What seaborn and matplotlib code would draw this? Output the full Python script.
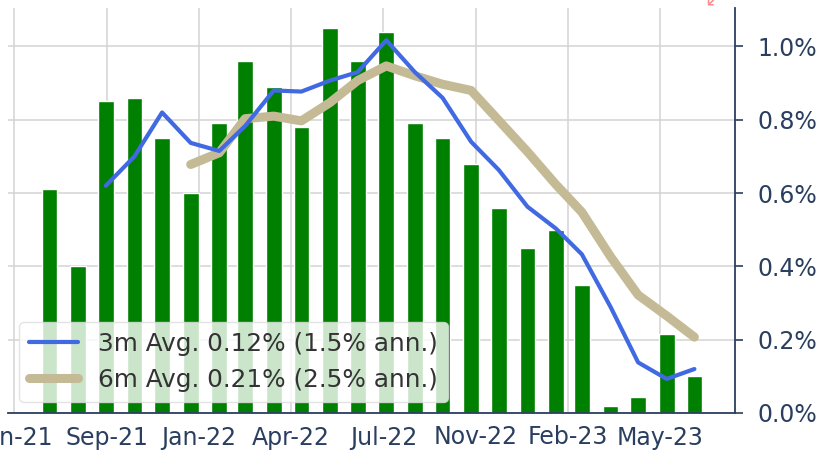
import numpy as np
import pandas as pd
import matplotlib
matplotlib.use("Agg")
import matplotlib.pyplot as plt
import matplotlib.dates as mdates
from matplotlib.ticker import FuncFormatter
import seaborn as sns

# monthly change (%), month-end dates
months = ["2021-07-31", "2021-08-31", "2021-09-30", "2021-10-31", "2021-11-30", "2021-12-31",
          "2022-01-31", "2022-02-28", "2022-03-31", "2022-04-30", "2022-05-31", "2022-06-30",
          "2022-07-31", "2022-08-31", "2022-09-30", "2022-10-31", "2022-11-30", "2022-12-31",
          "2023-01-31", "2023-02-28", "2023-03-31", "2023-04-30", "2023-05-31", "2023-06-30"]
monthly = [0.61, 0.40, 0.85, 0.86, 0.75, 0.60, 0.79, 0.96, 0.89, 0.78, 1.05, 0.96,
           1.04, 0.79, 0.75, 0.68, 0.56, 0.45, 0.50, 0.35, 0.02, 0.045, 0.215, 0.10]
avg_3m = [np.nan, np.nan, 0.62, 0.70, 0.82, 0.737, 0.715, 0.783, 0.88, 0.877, 0.907, 0.93,
          1.017, 0.93, 0.86, 0.74, 0.663, 0.563, 0.503, 0.433, 0.29, 0.138, 0.093, 0.12]
avg_6m = [np.nan, np.nan, np.nan, np.nan, np.nan, 0.678, 0.71, 0.803, 0.81, 0.797, 0.847, 0.907,
          0.947, 0.92, 0.897, 0.88, 0.798, 0.713, 0.623, 0.548, 0.427, 0.322, 0.265, 0.207]

label_3m = "3m Avg. 0.12% (1.5% ann.)"
label_6m = "6m Avg. 0.21% (2.5% ann.)"
tick_labels = ["Jun-21", "Sep-21", "Jan-22", "Apr-22", "Jul-22", "Nov-22", "Feb-23", "May-23"]

navy = "#2a3f5f"

sns.set_theme(style="whitegrid")
plt.rcParams["font.family"] = ["DejaVu Sans"]

x = mdates.date2num(pd.to_datetime(months))
df = pd.DataFrame({"x": x, "monthly": monthly, "avg3": avg_3m, "avg6": avg_6m})

fig = plt.figure(figsize=(8.18, 4.62), dpi=100)
ax = fig.add_axes([8 / 818, 49 / 462, 727 / 818, 405 / 462])

sns.barplot(data=df, x="x", y="monthly", native_scale=True, color="green",
            saturation=1, width=0.61, ax=ax, zorder=2)
sns.lineplot(data=df, x="x", y="avg3", color="royalblue", lw=3, label=label_3m,
             ax=ax, zorder=4)
sns.lineplot(data=df, x="x", y="avg6", color="#c4bb96", lw=6.5, label=label_6m,
             ax=ax, zorder=3, solid_capstyle="round")

# axis limits / ticks
ax.set_xlim(mdates.date2num(pd.Timestamp("2021-06-16")), mdates.date2num(pd.Timestamp("2023-08-13")))
ax.set_ylim(0, 1.105)
ticks = mdates.date2num(pd.date_range("2021-06-23", periods=len(tick_labels), freq="100D"))
ax.set_xticks(ticks)
ax.set_xticklabels(tick_labels)
ax.set_yticks([0, 0.2, 0.4, 0.6, 0.8, 1.0])
ax.yaxis.set_major_formatter(FuncFormatter(lambda v, p: f"{v:.1f}%"))
ax.yaxis.tick_right()
ax.set_xlabel("")
ax.set_ylabel("")

ax.tick_params(axis="x", length=0, pad=9, labelsize=17, colors=navy)
ax.tick_params(axis="y", length=6, width=1.2, pad=10, labelsize=17, colors=navy, right=True, left=False)

ax.grid(True, color="#d3d3d3", lw=1.1)
ax.set_axisbelow(True)
for s in ["left", "top"]:
    ax.spines[s].set_visible(False)
for s in ["right", "bottom"]:
    ax.spines[s].set_visible(True)
    ax.spines[s].set_color(navy)
    ax.spines[s].set_linewidth(1.3)

leg = ax.legend(loc="lower left", fontsize=17.8, framealpha=0.8, edgecolor="#dddddd",
                handlelength=2.0, borderaxespad=0.45)
for t in leg.get_texts():
    t.set_color("#333333")
for h in leg.get_lines():
    h.set_solid_capstyle("round")

# clipped red marker at the very top (cut off in the source)
fig.text(712 / 818, 1.0, "\u2199", color="red", alpha=0.45, fontsize=14,
         ha="center", va="center")

fig.savefig("out.png", dpi=100)
